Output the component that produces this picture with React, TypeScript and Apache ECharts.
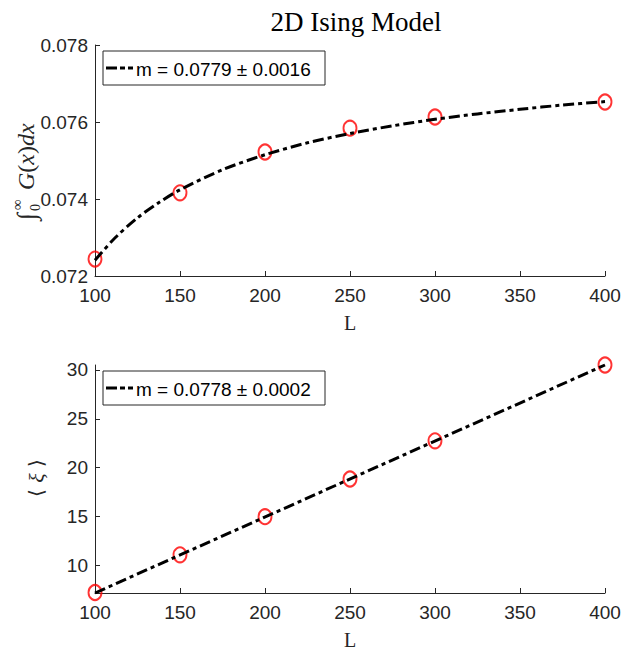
import React, { useEffect, useRef } from "react";
import * as echarts from "echarts";

// ---- data ----
const L = [100, 150, 200, 250, 300, 400];
const integralG = [0.07244, 0.07416, 0.07522, 0.07584, 0.07613, 0.07652];
const integralFitL = [100, 112, 125, 137, 150, 175, 200, 225, 250, 275, 300, 325, 350, 375, 400];
const integralFit = [0.07241, 0.073, 0.07351, 0.07389, 0.07424, 0.07476, 0.07515, 0.07546, 0.0757, 0.0759, 0.07607, 0.07621, 0.07633, 0.07644, 0.07653];
const xiMean = [7.25, 11.1, 15.0, 18.85, 22.75, 30.5];
const xiFitL = [100, 400];
const xiFit = [7.2, 30.5];
const xTicks = [100, 150, 200, 250, 300, 350, 400];
const topYTicks = [0.072, 0.074, 0.076, 0.078];
const bottomYTicks = [10, 15, 20, 25, 30];
const title = "2D Ising Model";
const topLegend = "m = 0.0779 \u00b1 0.0016";
const bottomLegend = "m = 0.0778 \u00b1 0.0002";

const SANS = "'Liberation Sans', Arial, sans-serif";
const SERIF = "'Liberation Serif', 'DejaVu Serif', serif";
const AX = "#262626";
const DASH = [11, 4, 4, 4];

function zip(xs: number[], ys: number[]) {
  return xs.map((x, i) => [x, ys[i]]);
}

function xAxisDef(gridIndex: number) {
  return {
    gridIndex,
    type: "value",
    min: 100,
    max: 400,
    interval: 50,
    name: "L",
    nameLocation: "middle",
    nameGap: 37,
    nameTextStyle: { fontFamily: SERIF, fontSize: 20, color: AX },
    axisLine: { show: true, onZero: false, lineStyle: { color: AX, width: 1 } },
    axisTick: { show: true, inside: true, length: 5, lineStyle: { color: AX }, customValues: xTicks },
    axisLabel: { fontFamily: SANS, fontSize: 19, color: AX, margin: 10, customValues: xTicks },
    splitLine: { show: false },
  };
}

function legendGraphics(top: number, text: string) {
  return [
    { type: "rect", shape: { x: 103, y: top, width: 222, height: 34 }, style: { fill: "#fff", stroke: AX, lineWidth: 1 }, z: 10 },
    { type: "line", shape: { x1: 106, y1: top + 17, x2: 133, y2: top + 17 }, style: { stroke: "#000", lineWidth: 3, lineDash: [11, 3, 5, 3] }, z: 11 },
    { type: "text", x: 136, y: top + 18, style: { text, font: `19px ${SANS}`, fill: "#000", verticalAlign: "middle" }, z: 11 },
  ];
}

export default function App() {
  const ref = useRef<HTMLDivElement>(null);
  useEffect(() => {
    if (!ref.current) return;
    const chart = echarts.init(ref.current, undefined, { renderer: "svg" });
    const option: any = {
      animation: false,
      backgroundColor: "#fff",
      title: {
        text: title,
        left: 351,
        top: 3,
        textAlign: "center",
        textStyle: { fontFamily: SERIF, fontSize: 27, fontWeight: "normal", color: "#000" },
      },
      grid: [
        { left: 95, right: 28, top: 45, height: 231 },
        { left: 95, right: 28, top: 365, height: 232 },
      ],
      xAxis: [xAxisDef(0), xAxisDef(1)],
      yAxis: [
        {
          gridIndex: 0,
          type: "value",
          min: 0.072,
          max: 0.078,
          interval: 0.002,
          axisLine: { show: true, onZero: false, lineStyle: { color: AX, width: 1 } },
          axisTick: { show: true, inside: true, length: 5, lineStyle: { color: AX }, customValues: topYTicks },
          axisLabel: {
            fontFamily: SANS,
            fontSize: 19,
            color: AX,
            margin: 7,
            customValues: topYTicks,
            formatter: (v: number) => v.toFixed(3),
          },
          splitLine: { show: false },
        },
        {
          gridIndex: 1,
          type: "value",
          min: 7.2,
          max: 30.5,
          axisLine: { show: true, onZero: false, lineStyle: { color: AX, width: 1 } },
          axisTick: { show: true, inside: true, length: 5, lineStyle: { color: AX }, customValues: bottomYTicks },
          axisLabel: { fontFamily: SANS, fontSize: 19, color: AX, margin: 7, customValues: bottomYTicks },
          splitLine: { show: false },
        },
      ],
      series: [
        {
          type: "scatter",
          xAxisIndex: 0,
          yAxisIndex: 0,
          data: zip(L, integralG),
          symbol: "circle",
          symbolSize: [13, 15],
          clip: false,
          itemStyle: { color: "rgba(0,0,0,0)", borderColor: "#ff0000", borderWidth: 2 },
          z: 2,
        },
        {
          type: "line",
          xAxisIndex: 0,
          yAxisIndex: 0,
          data: zip(integralFitL, integralFit),
          smooth: 0.3,
          showSymbol: false,
          clip: false,
          lineStyle: { color: "#000", width: 3, type: DASH },
          z: 3,
        },
        {
          type: "scatter",
          xAxisIndex: 1,
          yAxisIndex: 1,
          data: zip(L, xiMean),
          symbol: "circle",
          symbolSize: [13, 15],
          clip: false,
          itemStyle: { color: "rgba(0,0,0,0)", borderColor: "#ff0000", borderWidth: 2 },
          z: 2,
        },
        {
          type: "line",
          xAxisIndex: 1,
          yAxisIndex: 1,
          data: zip(xiFitL, xiFit),
          showSymbol: false,
          clip: false,
          lineStyle: { color: "#000", width: 3, type: DASH },
          z: 3,
        },
      ],
      graphic: [
        ...legendGraphics(51, topLegend),
        ...legendGraphics(371, bottomLegend),
        // top y label: integral G(x) dx
        {
          type: "group",
          x: 26,
          y: 160,
          rotation: Math.PI / 2,
          children: [
            { type: "text", x: -60, y: 0, style: { text: "\u222b", font: `26px ${SERIF}`, fill: AX, align: "left", verticalAlign: "middle" } },
            { type: "text", x: -50, y: -9, style: { text: "\u221e", font: `15px ${SERIF}`, fill: AX, align: "left", verticalAlign: "middle" } },
            { type: "text", x: -51, y: 9, style: { text: "0", font: `14px ${SERIF}`, fill: AX, align: "left", verticalAlign: "middle" } },
            {
              type: "text",
              x: -30,
              y: 0,
              style: {
                text: "{i|G}{r|(}{i|x}{r|)}{i|dx}",
                fill: AX,
                align: "left",
                verticalAlign: "middle",
                rich: {
                  i: { fontFamily: SERIF, fontStyle: "italic", fontSize: 24, fill: AX },
                  r: { fontFamily: SERIF, fontSize: 24, fill: AX },
                },
              },
            },
          ],
        },
        // bottom y label: < xi >
        {
          type: "group",
          x: 36,
          y: 478,
          rotation: Math.PI / 2,
          children: [
            {
              type: "text",
              x: 0,
              y: 0,
              style: {
                text: "{r|\u27e8 }{i|\u03be}{r| \u27e9}",
                fill: AX,
                align: "center",
                verticalAlign: "middle",
                rich: {
                  i: { fontFamily: SERIF, fontStyle: "italic", fontSize: 22, fill: AX },
                  r: { fontFamily: "'DejaVu Serif', serif", fontSize: 20, fill: AX },
                },
              },
            },
          ],
        },
      ],
    };
    chart.setOption(option);
    return () => chart.dispose();
  }, []);
  return <div ref={ref} style={{ position: "absolute", left: 0, top: 0, width: 633, height: 651 }} />;
}
